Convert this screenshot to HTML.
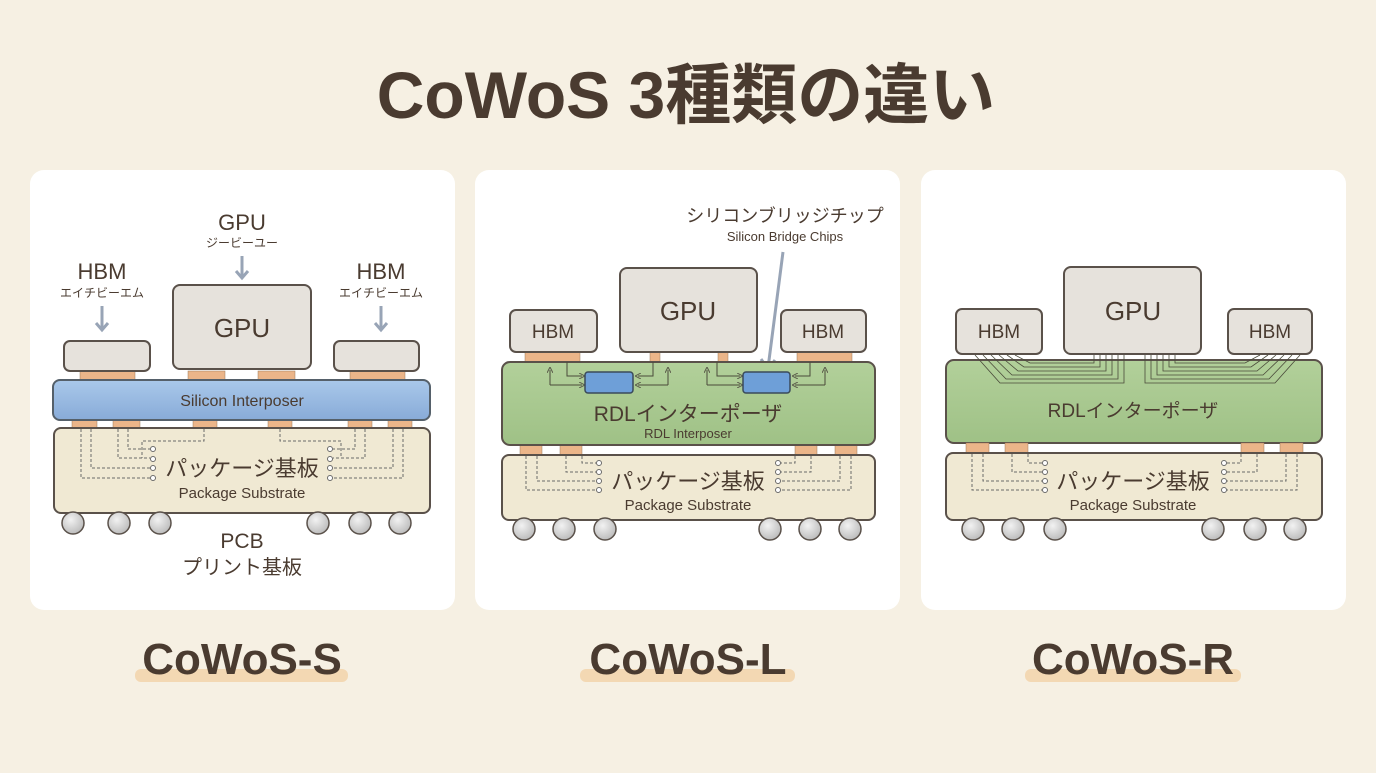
<!DOCTYPE html>
<html><head><meta charset="utf-8"><style>
html,body{margin:0;padding:0;background:#f6f0e3;}
svg text{font-family:"Liberation Sans","Noto Sans CJK JP",sans-serif;fill:#4a3b30;text-anchor:middle;}
</style></head><body>
<svg width="1376" height="768" viewBox="0 0 1376 768" xmlns="http://www.w3.org/2000/svg">
<defs>
<linearGradient id="blue" x1="0" y1="0" x2="0" y2="1"><stop offset="0" stop-color="#a9c8ea"/><stop offset="1" stop-color="#88abd8"/></linearGradient>
<linearGradient id="green" x1="0" y1="0" x2="0" y2="1"><stop offset="0" stop-color="#b2d09a"/><stop offset="1" stop-color="#9fc186"/></linearGradient>
<radialGradient id="ball" cx="0.4" cy="0.35" r="0.7"><stop offset="0" stop-color="#f2f2f2"/><stop offset="1" stop-color="#b9b9b9"/></radialGradient>
<marker id="ah" markerWidth="6" markerHeight="6" refX="3" refY="3" orient="auto"><path d="M0,0 L6,3 L0,6" fill="none" stroke="#5a5a4a" stroke-width="1"/></marker>
</defs>
<rect width="1376" height="768" fill="#f6f0e3"/>
<text x="686" y="118" font-size="66" font-weight="bold" fill="#4e3c30">CoWoS 3種類の違い</text>

<rect x="30" y="170" width="425" height="440" rx="14" fill="#fff"/>
<rect x="475" y="170" width="425" height="440" rx="14" fill="#fff"/>
<rect x="921" y="170" width="425" height="440" rx="14" fill="#fff"/>

<!-- Panel 1 -->
<text x="242" y="230" font-size="22">GPU</text>
<text x="242" y="247" font-size="12">ジービーユー</text>
<path d="M242 256 V278 M236 271 L242 278 L248 271" stroke="#98a4b6" stroke-width="3" fill="none"/>
<text x="102" y="279" font-size="22">HBM</text>
<text x="102" y="297" font-size="12">エイチビーエム</text>
<path d="M102 306 V330 M96 323 L102 330 L108 323" stroke="#98a4b6" stroke-width="3" fill="none"/>
<text x="381" y="279" font-size="22">HBM</text>
<text x="381" y="297" font-size="12">エイチビーエム</text>
<path d="M381 306 V330 M375 323 L381 330 L387 323" stroke="#98a4b6" stroke-width="3" fill="none"/>
<g fill="#ebb589" stroke="#9a7a5a" stroke-width="0.5">
<rect x="80" y="371" width="55" height="10"/><rect x="188" y="371" width="37" height="10"/><rect x="258" y="371" width="37" height="10"/><rect x="350" y="371" width="55" height="10"/>
<rect x="72" y="420" width="25" height="9"/><rect x="113" y="420" width="27" height="9"/><rect x="193" y="420" width="24" height="9"/><rect x="268" y="420" width="24" height="9"/><rect x="348" y="420" width="24" height="9"/><rect x="388" y="420" width="24" height="9"/>
</g>
<g fill="#e6e2dc" stroke="#5a514a" stroke-width="2">
<rect x="64" y="341" width="86" height="30" rx="6"/><rect x="334" y="341" width="85" height="30" rx="6"/><rect x="173" y="285" width="138" height="84" rx="7"/>
</g>
<text x="242" y="337" font-size="26">GPU</text>
<rect x="53" y="380" width="377" height="40" rx="7" fill="url(#blue)" stroke="#55606a" stroke-width="2"/>
<text x="242" y="406" font-size="16">Silicon Interposer</text>
<rect x="54" y="428" width="376" height="85" rx="7" fill="#f0e9d3" stroke="#5a514a" stroke-width="2"/>
<g stroke="#6a6a6a" stroke-width="1" stroke-dasharray="3,2" fill="none">
<path d="M81 429 V478 H150"/><path d="M91 429 V468 H150"/><path d="M118 429 V458 H150"/><path d="M128 429 V449 H150"/><path d="M204 429 V441 H142 V458"/>
<path d="M403 429 V478 H333"/><path d="M393 429 V468 H333"/><path d="M365 429 V458 H333"/><path d="M355 429 V449 H333"/><path d="M280 429 V441 H341 V458"/>
</g>
<g fill="#fff" stroke="#6a6a6a" stroke-width="1"><circle cx="153" cy="449" r="2.5"/><circle cx="153" cy="459" r="2.5"/><circle cx="153" cy="468" r="2.5"/><circle cx="153" cy="478" r="2.5"/><circle cx="330" cy="449" r="2.5"/><circle cx="330" cy="459" r="2.5"/><circle cx="330" cy="468" r="2.5"/><circle cx="330" cy="478" r="2.5"/></g>
<text x="242" y="476" font-size="22">パッケージ基板</text>
<text x="242" y="498" font-size="15">Package Substrate</text>
<g fill="url(#ball)" stroke="#5a514a" stroke-width="1.5"><circle cx="73" cy="523" r="11"/><circle cx="119" cy="523" r="11"/><circle cx="160" cy="523" r="11"/><circle cx="318" cy="523" r="11"/><circle cx="360" cy="523" r="11"/><circle cx="400" cy="523" r="11"/></g>
<text x="242" y="548" font-size="21">PCB</text>
<text x="242" y="574" font-size="20">プリント基板</text>
<rect x="135" y="669" width="213" height="13" rx="6" fill="#f3d8b3"/>
<text x="242" y="674" font-size="44" font-weight="bold">CoWoS-S</text>

<!-- Panel 2 -->
<text x="785" y="222" font-size="18">シリコンブリッジチップ</text>
<text x="785" y="241" font-size="13">Silicon Bridge Chips</text>
<path d="M783 252 L768 368 M761 359 L768 369 L775 360" stroke="#98a4b6" stroke-width="3" fill="none"/>
<g fill="#ebb589" stroke="#9a7a5a" stroke-width="0.5">
<rect x="525" y="352" width="55" height="10"/><rect x="650" y="352" width="10" height="10"/><rect x="718" y="352" width="10" height="10"/><rect x="797" y="352" width="55" height="10"/>
<rect x="520" y="445" width="22" height="10"/><rect x="560" y="445" width="22" height="10"/><rect x="795" y="445" width="22" height="10"/><rect x="835" y="445" width="22" height="10"/>
</g>
<g fill="#e6e2dc" stroke="#5a514a" stroke-width="2">
<rect x="510" y="310" width="87" height="42" rx="6"/><rect x="781" y="310" width="85" height="42" rx="6"/><rect x="620" y="268" width="137" height="84" rx="7"/>
</g>
<text x="553" y="338" font-size="19">HBM</text>
<text x="823" y="338" font-size="19">HBM</text>
<text x="688" y="320" font-size="26">GPU</text>
<rect x="502" y="362" width="373" height="83" rx="8" fill="url(#green)" stroke="#5a514a" stroke-width="2"/>
<g stroke="#4a4a3a" stroke-width="1" fill="none" marker-end="url(#ah)">
<path d="M567 362 V376 H582"/><path d="M550 385 V370"/><path d="M550 385 H582"/><path d="M653 362 V376 H638"/><path d="M668 385 V370"/><path d="M668 385 H638"/>
<path d="M717 362 V376 H740"/><path d="M707 385 V370"/><path d="M707 385 H740"/><path d="M810 362 V376 H795"/><path d="M825 385 V370"/><path d="M825 385 H795"/>
</g>
<rect x="585" y="372" width="48" height="21" rx="3" fill="#6e9fd8" stroke="#3a4a5a" stroke-width="1.5"/>
<rect x="743" y="372" width="47" height="21" rx="3" fill="#6e9fd8" stroke="#3a4a5a" stroke-width="1.5"/>
<text x="688" y="421" font-size="21">RDLインターポーザ</text>
<text x="688" y="438" font-size="13">RDL Interposer</text>
<rect x="502" y="455" width="373" height="65" rx="7" fill="#f0e9d3" stroke="#5a514a" stroke-width="2"/>
<g stroke="#6a6a6a" stroke-width="1" stroke-dasharray="3,2" fill="none">
<path d="M526 456 V490 H596"/><path d="M537 456 V481 H596"/><path d="M566 456 V472 H596"/><path d="M582 456 V463 H596"/>
<path d="M851 456 V490 H781"/><path d="M840 456 V481 H781"/><path d="M811 456 V472 H781"/><path d="M795 456 V463 H781"/>
</g>
<g fill="#fff" stroke="#6a6a6a" stroke-width="1"><circle cx="599" cy="463" r="2.5"/><circle cx="599" cy="472" r="2.5"/><circle cx="599" cy="481" r="2.5"/><circle cx="599" cy="490" r="2.5"/><circle cx="778" cy="463" r="2.5"/><circle cx="778" cy="472" r="2.5"/><circle cx="778" cy="481" r="2.5"/><circle cx="778" cy="490" r="2.5"/></g>
<text x="688" y="489" font-size="22">パッケージ基板</text>
<text x="688" y="510" font-size="15">Package Substrate</text>
<g fill="url(#ball)" stroke="#5a514a" stroke-width="1.5"><circle cx="524" cy="529" r="11"/><circle cx="564" cy="529" r="11"/><circle cx="605" cy="529" r="11"/><circle cx="770" cy="529" r="11"/><circle cx="810" cy="529" r="11"/><circle cx="850" cy="529" r="11"/></g>
<rect x="580" y="669" width="215" height="13" rx="6" fill="#f3d8b3"/>
<text x="688" y="674" font-size="44" font-weight="bold">CoWoS-L</text>

<!-- Panel 3 -->
<g fill="#e6e2dc" stroke="#5a514a" stroke-width="2">
<rect x="956" y="309" width="86" height="45" rx="6"/><rect x="1228" y="309" width="84" height="45" rx="6"/><rect x="1064" y="267" width="137" height="87" rx="7"/>
</g>
<text x="999" y="338" font-size="19">HBM</text>
<text x="1270" y="338" font-size="19">HBM</text>
<text x="1133" y="320" font-size="26">GPU</text>
<rect x="946" y="360" width="376" height="83" rx="8" fill="url(#green)" stroke="#5a514a" stroke-width="2"/>
<g stroke="#4a4a3a" stroke-width="0.8" fill="none">
<path d="M975 355 L1000 383 H1124 V355"/><path d="M983 355 L1006 379 H1118 V355"/><path d="M991 355 L1012 375 H1112 V355"/><path d="M999 355 L1018 371 H1106 V355"/><path d="M1007 355 L1024 367 H1100 V355"/><path d="M1015 355 L1030 363 H1094 V355"/>
<path d="M1300 355 L1275 383 H1145 V355"/><path d="M1292 355 L1269 379 H1151 V355"/><path d="M1284 355 L1263 375 H1157 V355"/><path d="M1276 355 L1257 371 H1163 V355"/><path d="M1268 355 L1251 367 H1169 V355"/><path d="M1260 355 L1245 363 H1175 V355"/>
</g>
<text x="1133" y="417" font-size="19">RDLインターポーザ</text>
<g fill="#ebb589" stroke="#9a7a5a" stroke-width="0.5">
<rect x="966" y="443" width="23" height="10"/><rect x="1005" y="443" width="23" height="10"/><rect x="1241" y="443" width="23" height="10"/><rect x="1280" y="443" width="23" height="10"/>
</g>
<rect x="946" y="453" width="376" height="67" rx="7" fill="#f0e9d3" stroke="#5a514a" stroke-width="2"/>
<g stroke="#6a6a6a" stroke-width="1" stroke-dasharray="3,2" fill="none">
<path d="M972 454 V490 H1042"/><path d="M983 454 V481 H1042"/><path d="M1012 454 V472 H1042"/><path d="M1028 454 V463 H1042"/>
<path d="M1297 454 V490 H1227"/><path d="M1286 454 V481 H1227"/><path d="M1257 454 V472 H1227"/><path d="M1241 454 V463 H1227"/>
</g>
<g fill="#fff" stroke="#6a6a6a" stroke-width="1"><circle cx="1045" cy="463" r="2.5"/><circle cx="1045" cy="472" r="2.5"/><circle cx="1045" cy="481" r="2.5"/><circle cx="1045" cy="490" r="2.5"/><circle cx="1224" cy="463" r="2.5"/><circle cx="1224" cy="472" r="2.5"/><circle cx="1224" cy="481" r="2.5"/><circle cx="1224" cy="490" r="2.5"/></g>
<text x="1133" y="489" font-size="22">パッケージ基板</text>
<text x="1133" y="510" font-size="15">Package Substrate</text>
<g fill="url(#ball)" stroke="#5a514a" stroke-width="1.5"><circle cx="973" cy="529" r="11"/><circle cx="1013" cy="529" r="11"/><circle cx="1055" cy="529" r="11"/><circle cx="1213" cy="529" r="11"/><circle cx="1255" cy="529" r="11"/><circle cx="1295" cy="529" r="11"/></g>
<rect x="1025" y="669" width="216" height="13" rx="6" fill="#f3d8b3"/>
<text x="1133" y="674" font-size="44" font-weight="bold">CoWoS-R</text>
</svg>
</body></html>
